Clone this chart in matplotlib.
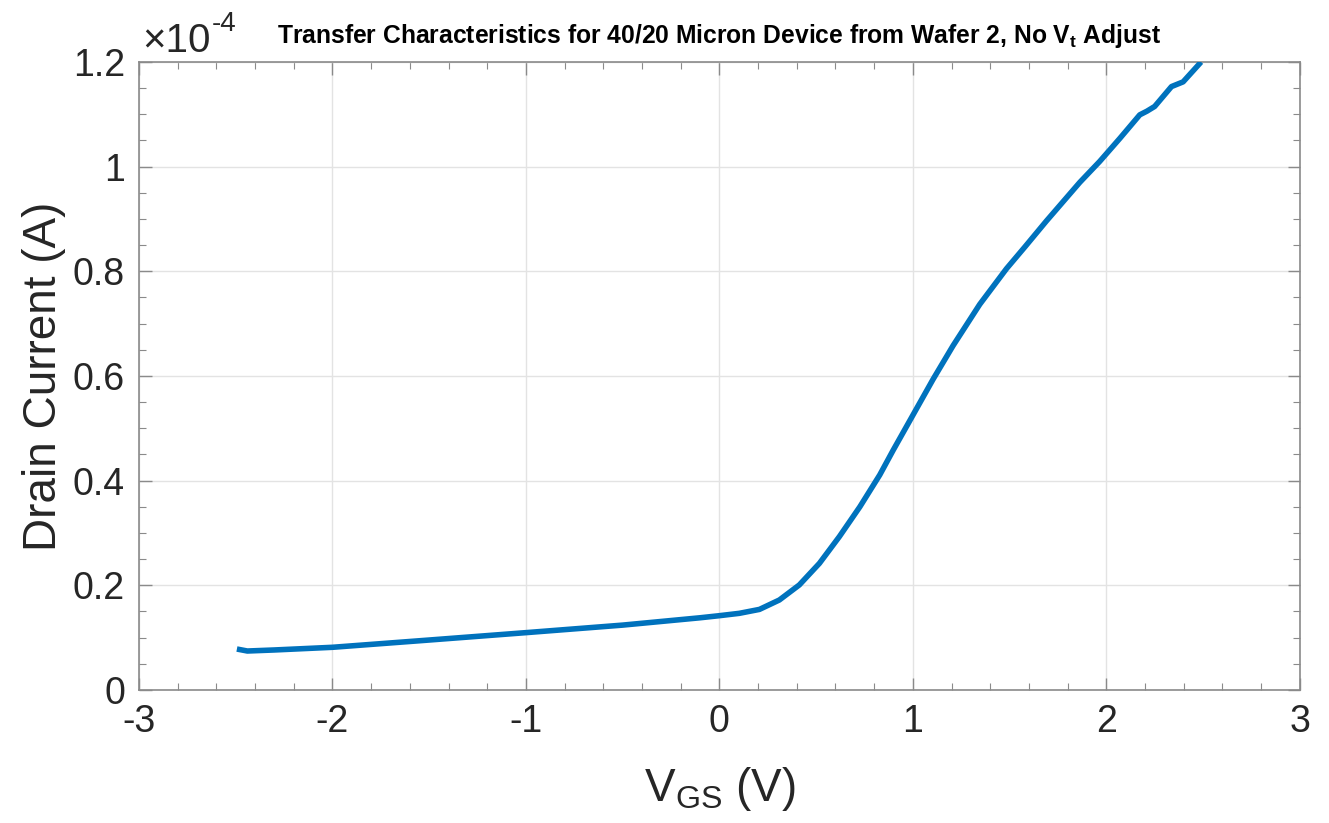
import matplotlib
matplotlib.use("Agg")
import matplotlib.pyplot as plt
from matplotlib.ticker import MultipleLocator, FuncFormatter

# ---- data ----
vgs = [-2.494, -2.44, -2.3, -2.0, -1.5, -1.0, -0.5, -0.10, 0.0, 0.103, 0.207,
       0.31, 0.413, 0.517, 0.62, 0.726, 0.829, 0.898, 1.0, 1.105, 1.208,
       1.346, 1.484, 1.58, 1.690, 1.863, 1.966, 2.07, 2.173, 2.21, 2.25,
       2.337, 2.397, 2.49]
id_scaled = [0.0783, 0.0745, 0.0765, 0.0816, 0.0955, 0.1096, 0.1240, 0.138,
             0.142, 0.1465, 0.154, 0.172, 0.2007, 0.242, 0.293, 0.350, 0.411,
             0.458, 0.525, 0.594, 0.658, 0.737, 0.805, 0.847, 0.896, 0.970,
             1.010, 1.054, 1.099, 1.106, 1.115, 1.153, 1.162, 1.200]
drain_current = [v * 1e-4 for v in id_scaled]

title = "Transfer Characteristics for 40/20 Micron Device from Wafer 2, No V$_\\mathregular{t}$ Adjust"
xlabel = "V$_\\mathregular{GS}$ (V)"
ylabel = "Drain Current (A)"

fam = "Liberation Sans"
plt.rcParams['font.family'] = [fam, 'DejaVu Sans']
plt.rcParams['mathtext.fontset'] = 'custom'
plt.rcParams['mathtext.rm'] = fam
plt.rcParams['mathtext.bf'] = fam + ':bold'

fig = plt.figure(figsize=(13.29, 8.23), dpi=100)
ax = fig.add_axes([0.1046, 0.1616, 0.978 - 0.1046, 0.9247 - 0.1616])

ax.plot(vgs, drain_current, color="#0072BD", lw=4.0, solid_capstyle='butt',
        solid_joinstyle='round', zorder=3)

ax.set_xlim(-3, 3)
ax.set_ylim(0, 1.2e-4)
ax.xaxis.set_major_locator(MultipleLocator(1))
ax.xaxis.set_minor_locator(MultipleLocator(0.2))
ax.yaxis.set_major_locator(MultipleLocator(0.2e-4))
ax.yaxis.set_minor_locator(MultipleLocator(0.05e-4))
ax.xaxis.set_major_formatter(FuncFormatter(lambda v, p: f"{v:g}"))
ax.yaxis.set_major_formatter(FuncFormatter(lambda v, p: f"{round(v/1e-4, 6):g}"))

ax.grid(True, which='major', color="#e3e3e3", lw=1.0, zorder=0)
ax.set_axisbelow(True)
for s in ax.spines.values():
    s.set_color("#8a8a8a")
    s.set_linewidth(1.2)
ax.tick_params(which='both', direction='in', top=True, right=True,
               color="#8a8a8a", labelcolor="#262626")
ax.tick_params(which='major', length=9, width=1.0, labelsize=27, pad=10)
ax.tick_params(which='minor', length=5, width=0.8)

ax.set_xlabel(xlabel, fontsize=33, color="#262626", labelpad=18)
ax.set_ylabel(ylabel, fontsize=33, color="#262626", labelpad=5)
ax.set_title(title, fontsize=17.7, fontweight='bold', color="#000000", pad=14)

fig.text(0.107, 1 - 52 / 823, "×10", fontsize=29, color="#262626",
         ha='left', va='baseline')
fig.text(0.1595, 1 - 31 / 823, "-4", fontsize=20, color="#262626",
         ha='left', va='baseline')

fig.savefig("out.png", dpi=100, facecolor="white")
